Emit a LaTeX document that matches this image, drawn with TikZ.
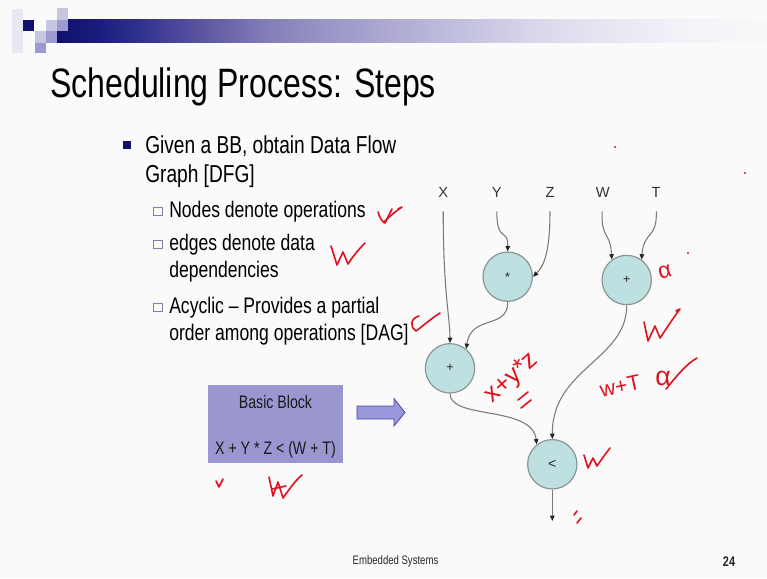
\documentclass[tikz,border=0pt]{standalone}
\usepackage{fontspec}
\setmainfont{Liberation Sans}
\usepackage{graphicx}
\usetikzlibrary{arrows.meta}

\definecolor{hdrnavy}{HTML}{10106E}
\definecolor{pixpale}{HTML}{E8E8F3}
\definecolor{pixlight}{HTML}{C6C6E2}
\definecolor{pixmid}{HTML}{9C9ACE}
\definecolor{opfill}{HTML}{BEE0E0}
\definecolor{opline}{HTML}{8A9696}
\definecolor{edgegray}{HTML}{7A7A7A}
\definecolor{blockfill}{HTML}{9A97D0}
\definecolor{arrowfill}{HTML}{9A96DA}
\definecolor{arrowline}{HTML}{4A4AA8}
\definecolor{boxline}{HTML}{8080A8}
\definecolor{inkred}{HTML}{E0101E}
\definecolor{barA}{HTML}{1C1C7E}
\definecolor{barB}{HTML}{2E2E8E}
\definecolor{barC}{HTML}{5A54A0}
\definecolor{barD}{HTML}{8480B8}
\definecolor{barE}{HTML}{9C98C8}
\definecolor{barF}{HTML}{B0ACD4}
\definecolor{barG}{HTML}{C4C2E0}
\definecolor{barH}{HTML}{D8D6EA}
\definecolor{barI}{HTML}{E6E6F2}
\definecolor{barJ}{HTML}{F2F2F8}
\definecolor{barK}{HTML}{F8F8F9}

\newcommand\slimtext[1]{\scalebox{0.78}[1]{#1}}

% the middle 50bp of the shading span the filled rectangle
\pgfdeclarehorizontalshading{hdrbar}{100bp}{color(0bp)=(hdrnavy); color(25bp)=(hdrnavy); color(28bp)=(barA); color(30.5bp)=(barB); color(35bp)=(barC); color(40bp)=(barD); color(44.5bp)=(barE); color(49bp)=(barF); color(54bp)=(barG); color(58.5bp)=(barH); color(63.5bp)=(barI); color(69bp)=(barJ); color(75bp)=(barK); color(100bp)=(barK)}

\tikzset{
  slidetext/.style={anchor=base west, inner sep=0pt, text=black},
  titletext/.style={slidetext, font=\fontsize{30.8}{34}\selectfont},
  lvlone/.style={slidetext, font=\fontsize{18.4}{22}\selectfont},
  lvltwo/.style={slidetext, font=\fontsize{16.9}{20}\selectfont},
  op/.style={circle, draw=opline, fill=opfill, line width=0.9pt, minimum size=37pt,
             inner sep=0pt, font=\fontsize{9.5}{10}\selectfont, text=black!85},
  var/.style={inner sep=0pt, font=\fontsize{11}{12}\selectfont, text=black!80},
  flow/.style={draw=edgegray, line width=0.8pt,
               -{Triangle[length=4pt,width=3.4pt,color=black!85]}},
  fromvar/.style={flow, shorten <=10pt},
  blockbox/.style={rectangle, fill=blockfill, minimum width=100.8pt, minimum height=58.3pt, inner sep=0pt},
  blocktext/.style={inner sep=0pt, font=\fontsize{13.6}{16}\selectfont, text=black!90},
  footer/.style={inner sep=0pt, font=\fontsize{9.2}{11}\selectfont, text=black!85},
  ink/.style={draw=inkred, line width=1.2pt, line cap=round, line join=round},
  inktext/.style={inner sep=0pt, text=inkred},
}

\begin{document}
\begin{tikzpicture}[x=0.75pt, y=-0.75pt]
\useasboundingbox (0,0) rectangle (767,578);
\fill[white!98!black] (0,0) rectangle (767,578);

% --- header: gradient bar and pixel squares ---
\shade[shading=hdrbar] (57,19.5) rectangle (767,42.5);
\fill[pixpale]  (12,8.5) rectangle (23,52.5);
\fill[hdrnavy]  (23,19.5) rectangle (34,30.5);
\fill[pixlight] (57,7.5) rectangle (68,19.5);
\fill[pixlight] (46,19.5) rectangle (57,30.5);
\fill[pixmid]   (57,19.5) rectangle (68,30.5);
\fill[pixlight] (35,30.5) rectangle (46,42.5);
\fill[pixmid]   (46,30.5) rectangle (57,42.5);
\fill[pixmid]   (35,42.5) rectangle (46,53);

% --- title ---
\node[titletext] (title) at (50,97) {\slimtext{Scheduling Process: Steps}};

% --- bullet list ---
\fill[hdrnavy] (123,141) rectangle (131,149);
\node[lvlone] (b1a) at (145,153) {\slimtext{Given a BB, obtain Data Flow}};
\node[lvlone] (b1b) at (145,182) {\slimtext{Graph [DFG]}};

\draw[boxline, line width=0.6pt] (153.5,207) rectangle (162,215.5);
\node[lvltwo] (b2a) at (169,217) {\slimtext{Nodes denote operations}};
\draw[boxline, line width=0.6pt] (153.5,240) rectangle (162,248.5);
\node[lvltwo] (b2b) at (169,250) {\slimtext{edges denote data}};
\node[lvltwo] (b2c) at (169,277) {\slimtext{dependencies}};
\draw[boxline, line width=0.6pt] (153.5,303) rectangle (162,311.5);
\node[lvltwo] (b2d) at (169,313) {\slimtext{Acyclic -- Provides a partial}};
\node[lvltwo] (b2e) at (169,340) {\slimtext{order among operations [DAG]}};

% --- basic block and block arrow ---
\node[blockbox] (bb) at (275.5,423.8) {};
\node[blocktext] (bbtitle) at (275.5,402) {\slimtext{Basic Block}};
\node[blocktext] (bbexpr) at (275.5,450) {\slimtext{X + Y * Z < (W + T)}};
\filldraw[fill=arrowfill, draw=arrowline, line width=0.6pt]
  (357,406) -- (394,406) -- (394,398.5) -- (405,412.5) -- (394,426) -- (394,419) -- (357,419) -- cycle;

% --- data flow graph ---
\node[var] (lx) at (443.3,192.7) {X};
\node[var] (ly) at (496.7,192.7) {Y};
\node[var] (lz) at (550,192.7) {Z};
\node[var] (lw) at (602.7,192.7) {W};
\node[var] (lt) at (656,192.7) {T};

\node[op] (mul)  at (507.7,276.7) {*};
\node[op] (addB) at (626.7,280) {+};
\node[op] (addA) at (450,368.3) {+};
\node[op, font=\fontsize{10.5}{11}\selectfont] (cmp) at (552.3,464.3) {<};
\coordinate (res) at (552.3,521);

\draw[fromvar] (lx.south) .. controls (443,290) and (450,318) .. (addA.north);
\draw[fromvar] (ly.south) .. controls (497,245) and (508,226) .. (mul.north);
\draw[fromvar] (lz.south) .. controls (550,252) and (544,266) .. (mul.east);
\draw[fromvar] (lw.south) .. controls (601,240) and (610,230) .. (addB.126);
\draw[fromvar] (lt.south) .. controls (657,240) and (644,230) .. (addB.54);
\draw[flow] (mul.south) .. controls (508,330) and (471,314) .. (addA.50);
\draw[flow] (addA.south) .. controls (450,420) and (532,405) .. (cmp.128);
\draw[flow] (addB.south) .. controls (627,360) and (552,368) .. (cmp.north);
\draw[flow] (cmp.south) -- (res);

% --- footer ---
\node[footer] (foot) at (395.5,561.7) {\slimtext{Embedded Systems}};
\node[footer, font=\fontsize{10.5}{12}\bfseries] (pageno) at (729,561.7) {\slimtext{24}};

% --- red pen annotations ---
\draw[ink] (378,212) .. controls (380,218) and (382,222) .. (385,223) .. controls (388,217) and (390,213) .. (392,209);
\draw[ink] (384,222) .. controls (390,216) and (396,211) .. (402,207) -- (398,209);
\draw[ink] (331,246) -- (337,265) -- (343,252) -- (348,264) .. controls (353,256) and (359,249) .. (365,243);
\draw[ink] (419,316) .. controls (410,318) and (410,328) .. (416,331) .. controls (424,325) and (432,318) .. (440,313);
\draw[ink] (216,481) -- (219,487) -- (223,479);
\draw[ink] (269,477) -- (273,496) -- (278,482) -- (283,498) .. controls (290,488) and (296,480) .. (302,475);
\draw[ink] (272,489) -- (286,486);

\node[inktext, rotate=42, font=\fontsize{19}{19}\selectfont] (hwsum) at (512,378) {x+y*z};
\draw[ink] (518,400) -- (528,392);
\draw[ink] (521,408) -- (531,400);

\node[inktext, rotate=12, font=\fontsize{16}{16}\selectfont] (hwwt) at (620,386) {w+T};
\node[inktext, font=\fontsize{20}{20}\selectfont] (hwalb) at (663,378) {α};
\draw[ink] (666,389) .. controls (676,377) and (686,364) .. (697,358);

\node[inktext, rotate=15, font=\fontsize{17}{17}\selectfont] (hwala) at (665,272) {α};
\draw[ink] (644,322) -- (648,341) -- (655,326) -- (660,338) .. controls (667,328) and (673,318) .. (680,309) -- (676,311);
\draw[ink] (584,455) -- (588,468) -- (593,458) -- (597,466) .. controls (601,460) and (606,453) .. (610,448);
\draw[ink] (574,515) -- (577,511);
\draw[ink] (577,523) -- (581,518);

\fill[inkred] (615,147) circle (0.8pt);
\fill[inkred] (745,173) circle (0.8pt);
\fill[inkred] (688,253) circle (0.8pt);
\end{tikzpicture}
\end{document}
